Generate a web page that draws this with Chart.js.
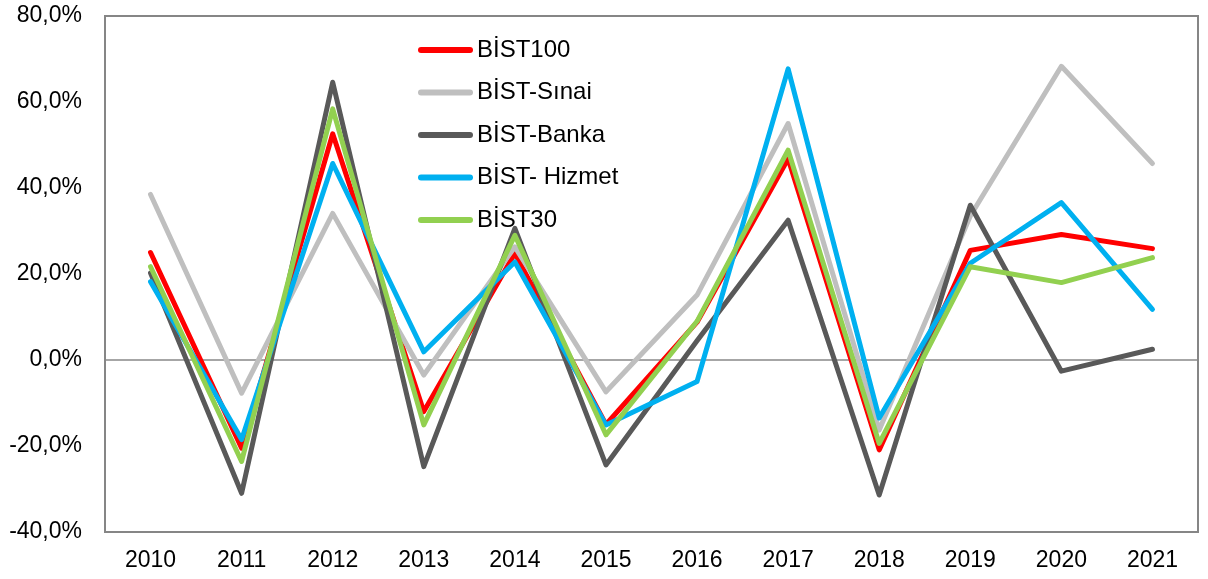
<!DOCTYPE html>
<html>
<head>
<meta charset="utf-8">
<script src="https://cdn.jsdelivr.net/npm/chart.js@4"></script>
<style>
  body { margin: 0; background: #fff; }
</style>
</head>
<body>
<canvas id="myChart" width="1208" height="579"></canvas>
<script>
// years on the x axis
const years = ["2010", "2011", "2012", "2013", "2014", "2015", "2016", "2017", "2018", "2019", "2020", "2021"]

// yearly returns, percent
const bist100 = [25.0, -20.5, 52.6, -12.0, 24.8, -15.0, 8.8, 46.8, -20.9, 25.5, 29.2, 25.9]
const bistSinai = [38.5, -7.7, 34.1, -3.5, 26.3, -7.4, 15.1, 55.0, -16.3, 33.5, 68.3, 45.7]
const bistBanka = [20.2, -31.0, 64.6, -24.8, 30.6, -24.4, 4.5, 32.5, -31.4, 36.0, -2.6, 2.5]
const bistHizmet = [18.2, -18.5, 45.7, 1.9, 22.8, -15.1, -5.0, 67.7, -13.5, 22.5, 36.6, 11.8]
const bist30 = [21.7, -23.6, 58.4, -15.1, 29.0, -17.4, 9.0, 48.8, -19.4, 21.7, 18.0, 23.8]

const seriesNames = ["BİST100", "BİST-Sınai", "BİST-Banka", "BİST- Hizmet", "BİST30"]
const seriesColors = ["#FF0000", "#BFBFBF", "#595959", "#00B0F0", "#92D050"]

const yTicks = [-40, -20, 0, 20, 40, 60, 80]

const FONT = "'Liberation Sans', Arial, sans-serif"

function makeSet(i, data){
  return {
    label: seriesNames[i],
    data: data,
    borderColor: seriesColors[i],
    backgroundColor: seriesColors[i],
    borderWidth: 5,
    borderJoinStyle: 'round',
    borderCapStyle: 'round',
    pointRadius: 0,
    tension: 0,
    fill: false,
    order: 5 - i   // later series painted on top, like excel
  }
}

// frame around the plot
const framePlugin = {
  id: 'frame',
  beforeDatasetsDraw(chart){
    const a = chart.chartArea
    const ctx = chart.ctx
    ctx.save()
    ctx.strokeStyle = '#868686'
    ctx.lineWidth = 2
    ctx.strokeRect(a.left, a.top, a.right - a.left, a.bottom - a.top)
    ctx.restore()
  }
}

// legend sitting inside the plot
const legendPlugin = {
  id: 'innerLegend',
  afterDatasetsDraw(chart){
    const ctx = chart.ctx
    ctx.save()
    ctx.font = "24px " + FONT
    ctx.textBaseline = 'middle'
    ctx.textAlign = 'left'
    chart.data.datasets.forEach(function(ds, i){
      const y = 50 + i * 42.5
      ctx.strokeStyle = ds.borderColor
      ctx.lineWidth = 6
      ctx.lineCap = 'round'
      ctx.beginPath()
      ctx.moveTo(421, y)
      ctx.lineTo(470, y)
      ctx.stroke()
      ctx.fillStyle = '#000'
      ctx.fillText(ds.label, 477, y)
    })
    ctx.restore()
  }
}

const ctx = document.getElementById('myChart').getContext('2d')
new Chart(ctx, {
  type: 'line',
  data: {
    labels: years,
    datasets: [
      makeSet(0, bist100),
      makeSet(1, bistSinai),
      makeSet(2, bistBanka),
      makeSet(3, bistHizmet),
      makeSet(4, bist30)
    ]
  },
  plugins: [framePlugin, legendPlugin],
  options: {
    responsive: false,
    animation: false,
    layout: { padding: { top: 16, right: 10, left: 0, bottom: 0 } },
    plugins: {
      legend: { display: false },
      tooltip: { enabled: false }
    },
    scales: {
      x: {
        offset: true,
        grid: { display: false, drawTicks: false },
        border: { display: false },
        ticks: {
          color: '#000',
          font: { family: FONT, size: 23 },
          padding: 15,
          maxRotation: 0
        },
        afterFit(scale){
          scale.height = 47
          scale.paddingLeft = 0
          scale.paddingRight = 0
        }
      },
      y: {
        min: -40,
        max: 80,
        afterBuildTicks(scale){ scale.ticks = yTicks.map(v => ({value: v})) },
        grid: {
          drawTicks: false,
          lineWidth: 2,
          color: c => c.tick && c.tick.value === 0 ? '#A6A6A6' : 'rgba(0,0,0,0)'
        },
        border: { display: false },
        ticks: {
          color: '#000',
          font: { family: FONT, size: 23 },
          padding: 23,
          callback: v => v.toFixed(1).replace('.', ',') + '%'
        },
        afterFit(scale){
          scale.width = 105
          scale.paddingTop = 0
          scale.paddingBottom = 0
        }
      }
    }
  }
})
</script>
</body>
</html>
